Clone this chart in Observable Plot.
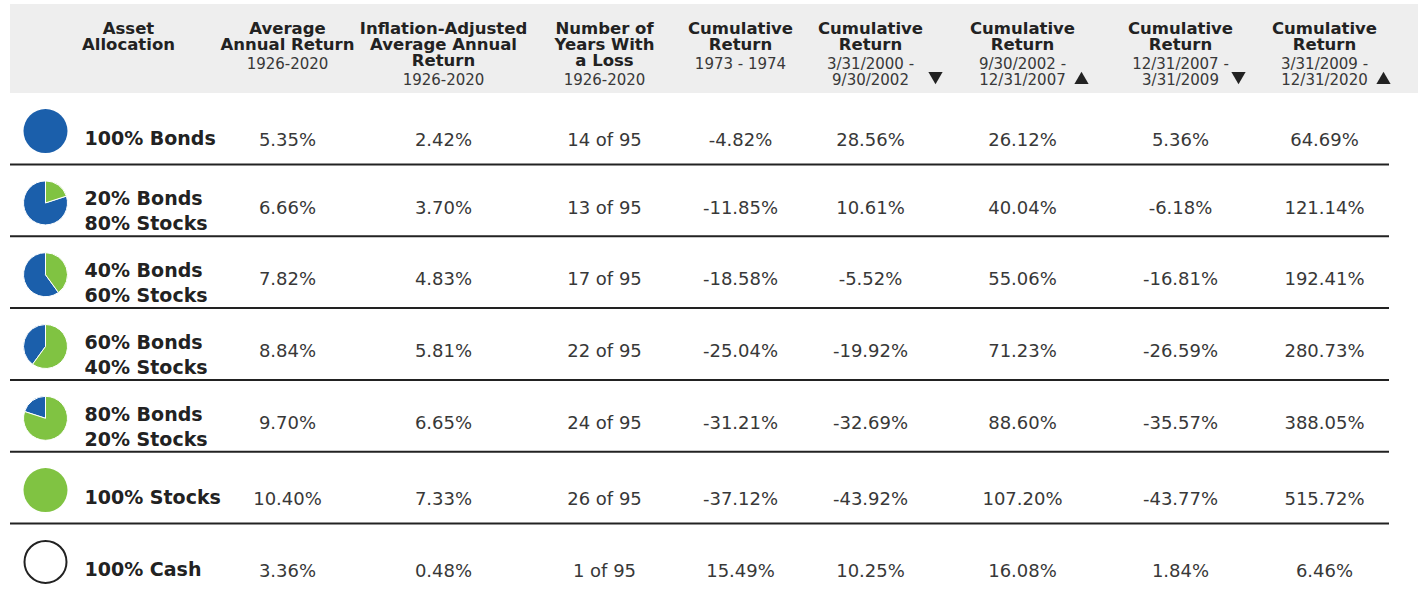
<!DOCTYPE html>
<html>
<head>
<meta charset="utf-8">
<script src="https://cdn.jsdelivr.net/npm/d3@7"></script>
<script src="https://cdn.jsdelivr.net/npm/@observablehq/plot@0.6"></script>
<style>
  html, body { margin: 0; padding: 0; background: #fff; overflow: hidden; }
  #chart svg { display: block; }
  #chart g[aria-label="values"] text { letter-spacing: 1px; }
  #chart g[aria-label="subtitles"] text { letter-spacing: 0.5px; }
</style>
</head>
<body>
<div id="chart"></div>
<script>
// ---------- DATA ----------
const allocationLabels = [
  "100% Bonds",
  "20% Bonds\n80% Stocks",
  "40% Bonds\n60% Stocks",
  "60% Bonds\n40% Stocks",
  "80% Bonds\n20% Stocks",
  "100% Stocks",
  "100% Cash"
];
// share of the pie drawn green, as shown in the picture (null = cash ring)
const pieGreenShare = [0, 0.2, 0.4, 0.6, 0.8, 1, null];

const avgAnnualReturn   = [5.35, 6.66, 7.82, 8.84, 9.70, 10.40, 3.36];
const inflationAdjusted = [2.42, 3.70, 4.83, 5.81, 6.65, 7.33, 0.48];
const yearsWithLoss     = [14, 13, 17, 22, 24, 26, 1];
const totalYears        = 95;
const cum1973_1974      = [-4.82, -11.85, -18.58, -25.04, -31.21, -37.12, 15.49];
const cum2000_2002      = [28.56, 10.61, -5.52, -19.92, -32.69, -43.92, 10.25];
const cum2002_2007      = [26.12, 40.04, 55.06, 71.23, 88.60, 107.20, 16.08];
const cum2007_2009      = [5.36, -6.18, -16.81, -26.59, -35.57, -43.77, 1.84];
const cum2009_2020      = [64.69, 121.14, 192.41, 280.73, 388.05, 515.72, 6.46];

const headerTitles = [
  "Asset\nAllocation",
  "Average\nAnnual Return",
  "Inflation-Adjusted\nAverage Annual\nReturn",
  "Number of\nYears With\na Loss",
  "Cumulative\nReturn",
  "Cumulative\nReturn",
  "Cumulative\nReturn",
  "Cumulative\nReturn",
  "Cumulative\nReturn"
];
const headerSubtitles = [
  "",
  "1926-2020",
  "1926-2020",
  "1926-2020",
  "1973 - 1974",
  "3/31/2000 -\n9/30/2002",
  "9/30/2002 -\n12/31/2007",
  "12/31/2007 -\n3/31/2009",
  "3/31/2009 -\n12/31/2020"
];
const headerArrows = [null, null, null, null, null, "down", "up", "down", "up"];

// ---------- LAYOUT ----------
const W = 1418, H = 590;
const colX = [128, 287, 443, 604, 740, 870, 1022, 1180, 1324];
const arrowX = [0, 0, 0, 0, 0, 935, 1081, 1238, 1383];
const rowTop = 92.2, rowH = 71.8;
const labelX = 84, pieX = 45, pieR = 22;
const BLUE = "#1b5fab", GREEN = "#80c342", INK = "#222", TEXT = "#383838";
const BOLD_FONT = "'DejaVu Sans', sans-serif";
const BODY_FONT = "'DejaVu Sans', sans-serif";

const pct = v => v.toFixed(2) + "%";
const rows = allocationLabels.map((label, i) => {
  const twoLine = label.includes("\n");
  const c = rowTop + rowH * (i + 0.5);
  return {
    i, label, twoLine,
    green: pieGreenShare[i],
    pieY: c + 2.5,
    labelY: c + (twoLine ? 9.5 : 8.5),
    valueY: c + (twoLine ? 7.5 : 12),
    values: [
      pct(avgAnnualReturn[i]),
      pct(inflationAdjusted[i]),
      `${yearsWithLoss[i]} of ${totalYears}`,
      pct(cum1973_1974[i]),
      pct(cum2000_2002[i]),
      pct(cum2002_2007[i]),
      pct(cum2007_2009[i]),
      pct(cum2009_2020[i])
    ]
  };
});

const cells = rows.flatMap(r => r.values.map((v, j) => ({text: v, col: j + 1, y: r.valueY})));

const headers = headerTitles.map((t, j) => ({
  title: t, sub: headerSubtitles[j], arrow: headerArrows[j], col: j,
  nTitle: t.split("\n").length
}));

const separators = d3.range(1, rows.length).map(k => ({y: rowTop + rowH * k}));

// wedge symbol, angles measured clockwise from 12 o'clock (fractions of a turn)
function wedge(f0, f1) {
  return {
    draw(ctx, size) {
      const r = Math.sqrt(size / Math.PI);
      const a0 = -Math.PI / 2 + f0 * 2 * Math.PI;
      const a1 = -Math.PI / 2 + f1 * 2 * Math.PI;
      ctx.moveTo(0, 0);
      ctx.arc(0, 0, r, a0, a1);
      ctx.closePath();
    }
  };
}

const pieMarks = [];
rows.forEach(r => {
  if (r.green === null) {
    pieMarks.push(Plot.dot([r], {x: () => pieX, y: "pieY", r: pieR - 1, fill: "none", stroke: INK, strokeWidth: 2}));
  } else if (r.green === 0 || r.green === 1) {
    pieMarks.push(Plot.dot([r], {x: () => pieX, y: "pieY", r: pieR, fill: r.green === 1 ? GREEN : BLUE}));
  } else {
    pieMarks.push(Plot.dot([r], {x: () => pieX, y: "pieY", r: pieR, symbol: wedge(r.green, 1), fill: BLUE, stroke: "#fff", strokeWidth: 1}));
    pieMarks.push(Plot.dot([r], {x: () => pieX, y: "pieY", r: pieR, symbol: wedge(0, r.green), fill: GREEN, stroke: "#fff", strokeWidth: 1}));
  }
});

const chart = Plot.plot({
  width: W,
  height: H,
  margin: 0,
  style: {fontFamily: BODY_FONT, background: "#fff"},
  x: {domain: [0, W], range: [0, W], axis: null},
  y: {domain: [0, H], range: [0, H], axis: null},
  marks: [
    // header band
    Plot.rect([0], {x1: () => 10, x2: () => W, y1: () => 4, y2: () => 93, fill: "#eeeeee"}),
    // header titles
    Plot.text(headers, {
      x: d => colX[d.col], y: () => 21.7, text: "title",
      lineAnchor: "top", lineHeight: 16.3 / 16.5,
      fontFamily: BOLD_FONT, fontSize: 16.5, fontWeight: 700, fill: INK, textAnchor: "middle",
      ariaLabel: "titles"
    }),
    // header subtitles
    Plot.text(headers.filter(d => d.sub), {
      x: d => colX[d.col], y: d => 21.7 + 16.5 * d.nTitle + 2.4, text: "sub",
      lineAnchor: "top", lineHeight: 16 / 15,
      fontSize: 15, fontWeight: 400, fill: TEXT, textAnchor: "middle",
      ariaLabel: "subtitles"
    }),
    // header arrows
    Plot.dot(headers.filter(d => d.arrow === "down"), {
      x: d => arrowX[d.col], y: () => 75.5, symbol: "triangle2", rotate: 180, r: 6.8, fill: INK
    }),
    Plot.dot(headers.filter(d => d.arrow === "up"), {
      x: d => arrowX[d.col], y: () => 79.5, symbol: "triangle2", r: 6.8, fill: INK
    }),
    // row separators
    Plot.ruleY(separators, {y: "y", x1: () => 10, x2: () => 1389, stroke: INK, strokeWidth: 2}),
    // pies
    ...pieMarks,
    // row labels
    Plot.text(rows, {
      x: () => labelX, y: "labelY", text: "label", textAnchor: "start",
      lineAnchor: "middle", lineHeight: 1.32,
      fontFamily: BOLD_FONT, fontSize: 19, fontWeight: 700, fill: INK,
      ariaLabel: "labels"
    }),
    // values
    Plot.text(cells, {
      x: d => colX[d.col], y: "y", text: "text", textAnchor: "middle",
      fontSize: 18, fontWeight: 400, fill: TEXT,
      ariaLabel: "values"
    })
  ]
});

document.getElementById("chart").appendChild(chart);
</script>
</body>
</html>
